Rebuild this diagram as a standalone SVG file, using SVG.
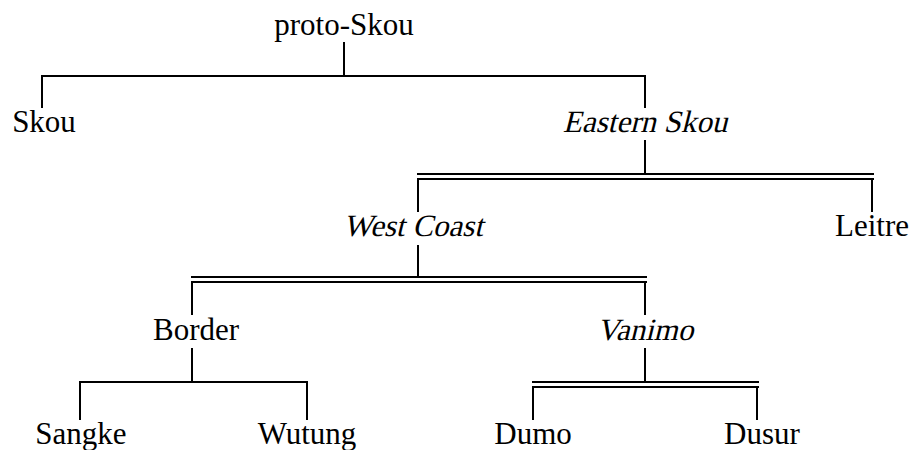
<svg xmlns="http://www.w3.org/2000/svg" width="913" height="450" viewBox="0 0 913 450">
<style>
.t{font-family:"Liberation Serif","Times New Roman",serif;font-size:31px;fill:#000;text-anchor:middle}
.l{stroke:#000;stroke-width:2;fill:none;stroke-linecap:butt}
</style>
<rect width="913" height="450" fill="#fff"/>
<g id="connectors" class="l">
<path d="M344 42V76M41 76H646M42 76V108M645 76V108"/>
<path d="M645 140V174M417 174H874M417 179H874M418 179V212M872 179V212"/>
<path d="M418 245V277M191 277H647M191 282H647M192 282V315M645 282V315"/>
<path d="M192 348V382M79 382H308M80 382V420M307 382V420"/>
<path d="M645 348V382M532 382H759M532 387H759M533 387V420M757 387V420"/>
</g>
<g id="proto-Skou"><text class="t" x="344" y="35">proto-Skou</text></g>
<g id="Skou"><text class="t" x="44" y="132">Skou</text></g>
<g id="Eastern-Skou"><text class="t" transform="translate(645 132) skewX(-14)">Eastern Skou</text></g>
<g id="West-Coast"><text class="t" transform="translate(413 236) skewX(-14)">West Coast</text></g>
<g id="Leitre"><text class="t" x="872" y="236">Leitre</text></g>
<g id="Border"><text class="t" x="196" y="340">Border</text></g>
<g id="Vanimo"><text class="t" transform="translate(645 340) skewX(-14)">Vanimo</text></g>
<g id="Sangke"><text class="t" x="81" y="444">Sangke</text></g>
<g id="Wutung"><text class="t" x="307" y="444">Wutung</text></g>
<g id="Dumo"><text class="t" x="533" y="444">Dumo</text></g>
<g id="Dusur"><text class="t" x="762" y="444">Dusur</text></g>
</svg>
